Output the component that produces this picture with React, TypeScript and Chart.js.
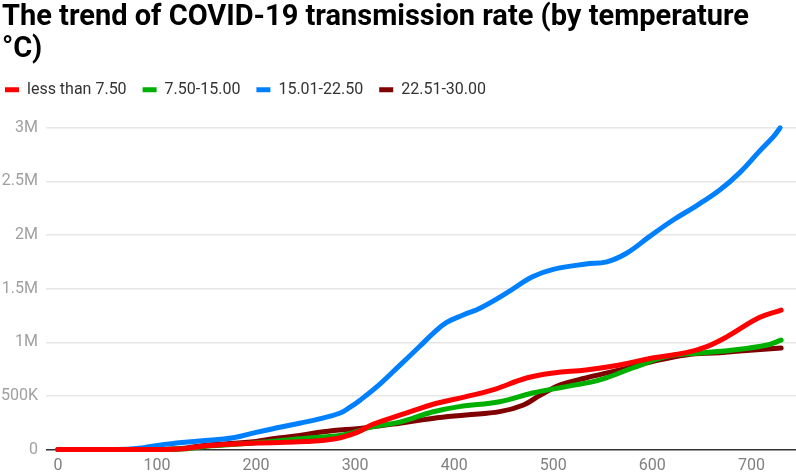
import React, { useEffect, useRef } from "react";
import { Chart, registerables } from "chart.js";

Chart.register(...registerables);

const TITLE_LINES = ["The trend of COVID-19 transmission rate (by temperature", "°C)"];
const SERIES_NAMES = ["less than 7.50", "7.50-15.00", "15.01-22.50", "22.51-30.00"];
const SERIES_COLORS = ["#ff0000", "#00b000", "#0080ff", "#800000"];

const redDays = [0, 100, 130, 150, 200, 250, 280, 302, 318, 345, 358, 378, 412, 439, 473, 500, 533, 567, 600, 634, 655, 675, 708, 730];
const redValues = [0, 0, 10000, 35000, 60000, 75000, 100000, 160000, 235000, 320000, 360000, 420000, 493000, 555000, 667000, 714000, 742000, 788000, 853000, 903000, 960000, 1050000, 1230000, 1300000];

const greenDays = [0, 100, 130, 150, 200, 250, 288, 318, 345, 378, 405, 446, 479, 513, 547, 580, 614, 648, 682, 716, 730];
const greenValues = [0, 0, 8000, 30000, 62000, 105000, 135000, 213000, 255000, 350000, 400000, 446000, 527000, 586000, 649000, 760000, 866000, 900000, 928000, 975000, 1020000];

const blueDays = [0, 40, 70, 85, 110, 143, 177, 200, 224, 244, 264, 285, 295, 305, 325, 345, 365, 379, 392, 409, 426, 453, 479, 500, 533, 554, 574, 597, 621, 644, 668, 688, 708, 722, 729];
const blueValues = [0, 0, 2000, 15000, 50000, 80000, 110000, 160000, 207000, 245000, 285000, 340000, 395000, 460000, 610000, 785000, 960000, 1085000, 1183000, 1255000, 1318000, 1460000, 1610000, 1680000, 1730000, 1750000, 1830000, 1985000, 2140000, 2270000, 2420000, 2580000, 2780000, 2915000, 3000000];

const maroonDays = [0, 100, 130, 150, 200, 217, 244, 268, 311, 345, 378, 412, 446, 470, 487, 507, 533, 567, 600, 634, 668, 702, 730];
const maroonValues = [0, 0, 15000, 40000, 75000, 100000, 130000, 166000, 204000, 245000, 290000, 322000, 353000, 415000, 508000, 602000, 667000, 742000, 820000, 882000, 903000, 928000, 947000];

const X_TICKS = [0, 100, 200, 300, 400, 500, 600, 700];
const Y_TICK_LABELS: Record<number, string> = { 0: "0", 500000: "500K", 1000000: "1M", 1500000: "1.5M", 2000000: "2M", 2500000: "2.5M", 3000000: "3M" };

const toPoints = (days: number[], vals: number[]) => days.map((d, i) => ({ x: d, y: vals[i] }));

export default function App() {
  const ref = useRef<HTMLCanvasElement | null>(null);
  useEffect(() => {
    document.body.style.margin = "0";
    const ctx = ref.current!.getContext("2d")!;
    const allData = [toPoints(redDays, redValues), toPoints(greenDays, greenValues), toPoints(blueDays, blueValues), toPoints(maroonDays, maroonValues)];
    const legendTweak = {
      id: "legendTweak",
      beforeLayout(chart: any) {
        const lg = chart.legend;
        if (lg && !lg.__wrapped) {
          const orig = lg.fit.bind(lg);
          lg.fit = function () {
            orig();
            this.height += 20;
          };
          lg.__wrapped = true;
        }
      },
      afterLayout(chart: any) {
        if (chart.legend) {
          chart.legend.left -= 13;
        }
      },
    };
    const chart = new Chart(ctx, {
      type: "line",
      data: {
        datasets: allData.map((d, i) => ({
          label: SERIES_NAMES[i],
          data: d,
          borderColor: SERIES_COLORS[i],
          backgroundColor: SERIES_COLORS[i],
          borderWidth: 5,
          borderCapStyle: "round" as const,
          borderJoinStyle: "round" as const,
          pointRadius: 0,
          tension: 0.4,
          fill: false,
          clip: false as any,
        })),
      },
      options: {
        animation: false,
        responsive: false,
        layout: { padding: { left: 2, right: 0, top: 0, bottom: 0 } },
        plugins: {
          title: {
            display: true,
            text: TITLE_LINES,
            align: "start",
            color: "#000",
            font: { family: "Roboto", weight: "bold", size: 29, lineHeight: 1.1 },
            padding: { top: 2, bottom: 0 },
          },
          legend: {
            display: true,
            align: "start",
            labels: {
              usePointStyle: true,
              pointStyle: "line",
              pointStyleWidth: 14,
              padding: 16,
              color: "#333",
              font: { family: "Roboto", size: 16 },
            },
          },
          tooltip: { enabled: false },
        },
        scales: {
          x: {
            type: "linear",
            min: -12,
            max: 745,
            afterBuildTicks: (axis: any) => {
              axis.ticks = X_TICKS.map((v) => ({ value: v }));
            },
            afterFit: (s: any) => {
              s.height = 24.5;
            },
            grid: { display: false, drawTicks: false },
            border: { display: false },
            ticks: {
              color: "#808080",
              padding: 7,
              maxRotation: 0,
              autoSkip: false,
              font: { family: "Roboto", size: 16 },
            },
          },
          y: {
            type: "linear",
            min: 0,
            max: 3000000,
            afterFit: (s: any) => {
              s.width = 44;
            },
            ticks: {
              stepSize: 500000,
              color: "#a0a0a0",
              padding: 8,
              font: { family: "Roboto", size: 16 },
              callback: (v: any) => Y_TICK_LABELS[v as number] ?? "",
            },
            grid: {
              drawTicks: false,
              color: (c: any) => (c.tick && c.tick.value === 0 ? "#333333" : "#e6e6e6"),
              lineWidth: 1.5,
            },
            border: { display: false },
          },
        },
      },
      plugins: [legendTweak],
    });
    return () => chart.destroy();
  }, []);
  return (
    <div style={{ width: 796, height: 474, background: "#fff" }}>
      <canvas ref={ref} width={796} height={474} style={{ display: "block" }} />
    </div>
  );
}
